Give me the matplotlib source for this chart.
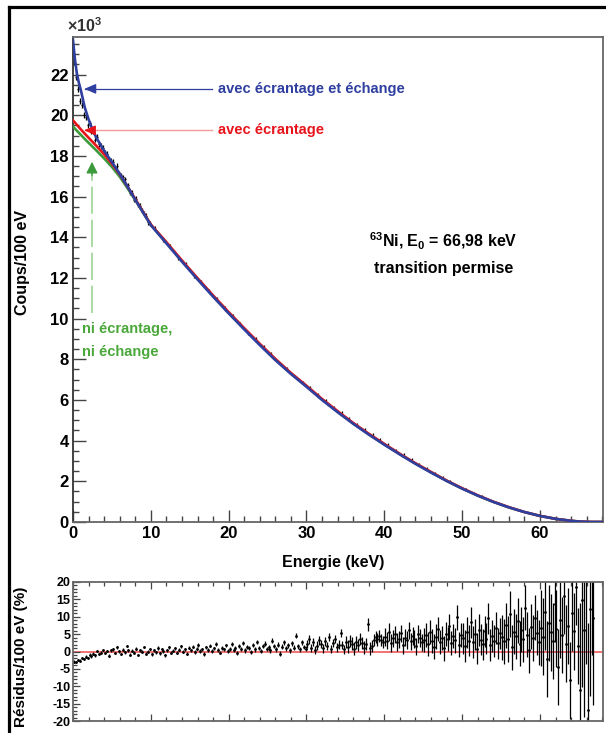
import matplotlib
matplotlib.use("Agg")
import matplotlib.pyplot as plt
from matplotlib.lines import Line2D
from matplotlib.ticker import MultipleLocator
import numpy as np

plt.rcParams["font.family"] = ["Liberation Sans", "DejaVu Sans"]
plt.rcParams["font.weight"] = "bold"
plt.rcParams["axes.unicode_minus"] = False
plt.rcParams["mathtext.fontset"] = "custom"
plt.rcParams["mathtext.bf"] = "Liberation Sans:bold"
plt.rcParams["mathtext.rm"] = "Liberation Sans:bold"
plt.rcParams["mathtext.default"] = "bf"

# ---- fitted spectra (x10^3 counts / 100 eV) ----
E_FIT = [0, 0.25, 0.5, 0.75, 1, 1.5, 2, 2.5, 3, 4, 5, 6, 7, 8, 9, 10, 12, 14, 16, 18,
         20, 22, 24, 26, 28, 30, 32, 34, 36, 38, 40, 42, 44, 46, 48, 50, 52, 54, 56, 58,
         60, 62, 64, 65, 66, 66.5, 66.98, 68]
FIT_FULL = [23.7, 22.75, 22.05, 21.6, 21.25, 20.4, 19.8, 19.3, 18.9, 18.25, 17.7, 17.12,
            16.5, 15.85, 15.22, 14.6, 13.7, 12.8, 11.93, 11.08, 10.26, 9.47, 8.7, 7.96,
            7.28, 6.65, 6.0, 5.4, 4.83, 4.3, 3.8, 3.32, 2.86, 2.43, 2.02, 1.64, 1.3, 0.99,
            0.72, 0.49, 0.3, 0.155, 0.058, 0.025, 0.006, 0.0015, 0, 0]
FIT_SCREEN = [19.75, 19.64, 19.53, 19.42, 19.31, 19.1, 18.9, 18.7, 18.5, 18.08, 17.62,
              17.1, 16.5, 15.88, 15.25, 14.63, 13.76, 12.86, 11.99, 11.14, 10.32, 9.53,
              8.76, 8.02, 7.33, 6.7, 6.05, 5.45, 4.87, 4.34, 3.84, 3.35, 2.89, 2.46, 2.04,
              1.66, 1.31, 1.0, 0.73, 0.49, 0.3, 0.155, 0.058, 0.025, 0.006, 0.0015, 0, 0]
FIT_BARE = [19.45, 19.34, 19.24, 19.14, 19.04, 18.84, 18.65, 18.46, 18.27, 17.88, 17.46,
            16.98, 16.42, 15.83, 15.23, 14.61, 13.74, 12.84, 11.97, 11.12, 10.3, 9.51,
            8.74, 8.0, 7.31, 6.68, 6.03, 5.43, 4.85, 4.32, 3.82, 3.34, 2.88, 2.45, 2.03,
            1.65, 1.3, 0.99, 0.72, 0.49, 0.3, 0.155, 0.058, 0.025, 0.006, 0.0015, 0, 0]

# ---- measured spectrum (x10^3 counts / 100 eV) ----
E_DATA = [0.125, 0.375, 0.625, 0.875, 1.125, 1.375, 1.625, 1.875, 2.125, 2.375,
          2.625, 2.875, 3.125, 3.375, 3.625, 3.875, 4.125, 4.375, 4.625, 4.875,
          5.125, 5.375, 5.625, 5.875, 6.125, 6.375, 6.625, 6.875, 7.125, 7.375,
          7.625, 7.875, 8.125, 8.375, 8.625, 8.875, 9.125, 9.375, 9.625, 9.875,
          10.5, 11.5, 12.5, 13.5, 14.5, 15.5, 16.5, 17.5, 18.5, 19.5, 20.5, 21.5,
          22.5, 23.5, 24.5, 25.5, 26.5, 27.5, 28.5, 29.5, 30.5, 31.5, 32.5, 33.5,
          34.5, 35.5, 36.5, 37.5, 38.5, 39.5, 40.5, 41.5, 42.5, 43.5, 44.5, 45.5,
          46.5, 47.5, 48.5, 49.5, 50.5, 51.5, 52.5, 53.5, 54.5, 55.5, 56.5, 57.5,
          58.5, 59.5, 60.5, 61.5, 62.5, 63.5, 64.5, 65.5, 66.5]
COUNTS = [22.6, 21.9, 21.3, 20.7, 20.5, 20.0, 19.9, 19.5, 19.6, 19.2,
          19.2, 18.8, 18.95, 18.6, 18.5, 18.4, 18.15, 18.1, 17.7, 17.75,
          17.7, 17.35, 17.5, 17.15, 17.05, 16.95, 16.85, 16.5, 16.55, 16.2,
          16.2, 15.85, 15.9, 15.6, 15.55, 15.3, 15.15, 15.05, 14.75, 14.7,
          14.45, 13.9, 13.55, 13.0, 12.65, 12.1, 11.8, 11.35, 10.95, 10.5, 10.15, 9.75,
          9.3, 9.0, 8.6, 8.25, 7.85, 7.55, 7.15, 6.85, 6.6, 6.25, 5.95, 5.65,
          5.4, 5.1, 4.8, 4.55, 4.3, 4.05, 3.8, 3.55, 3.33, 3.08, 2.85, 2.63,
          2.42, 2.2, 2.0, 1.8, 1.61, 1.43, 1.27, 1.11, 0.96, 0.82, 0.69, 0.57,
          0.46, 0.36, 0.27, 0.2, 0.14, 0.085, 0.045, 0.02, 0.004]

# ---- residuals (%), 0.25 keV bins starting at 0.125 keV ----
RESID = [
    -2.9, -3.1, -2.4, -2.6, -1.8, -2.2, -1.5, -1.9, -0.9, -1.4, -0.6, -1.1, 0.2, -0.8, -0.3, 0.4, -0.5, 0.1, -1.2, 0.3,
    0.6, -0.4, 1.2, 0.1, -0.7, 0.5, -0.2, 1.6, 0.3, -0.9, 0.2, -0.3, 0.8, -1.0, 0.4, -0.1, 1.3, -0.6, 0.0, 0.7,
    -0.8, 0.3, -0.2, 1.0, -0.5, 0.6, 0.1, -1.1, 0.4, 1.2, -0.3, 0.2, 0.9, -0.4, 0.5, 1.5, 0.0, 0.7, -0.6, 1.1,
    0.3, 1.4, -0.2, 0.8, 1.9, 0.2, 0.6, -0.7, 1.2, 0.4, 1.7, 0.1, 0.9, 2.1, 0.5, -0.3, 1.0, 0.6, 1.8, 0.2,
    0.8, 2.2, 0.4, 1.1, -0.5, 1.6, 0.7, 2.5, 0.3, 1.3, 0.9, -0.2, 1.9, 0.6, 2.8, 1.0, 0.2, 1.5, 2.3, 0.8,
    1.2, 0.4, 3.1, 1.6, 0.7, 2.0, -0.6, 1.4, 2.6, 0.9, 1.8, 0.3, 2.4, 1.1, 4.6, 1.5, 0.6, 2.7, 1.3, 0.8,
    2.1, 3.5, 1.0, 2.8, 0.4, 1.7, 3.2, 2.2, 0.9, 2.9, 1.5, 4.1, 0.7, 2.5, 3.6, 1.2, 2.0, 5.4, 1.8, 0.6,
    2.7, 1.4, 3.0, 2.3, 0.8, 2.6, 1.9, 3.6, 2.5, 1.1, 2.2, 7.8, 0.9, 1.6, 3.3, 4.2, 3.5, 4.5, 3.3, 2.8,
    4.2, 3.1, 5.6, 2.4, 3.8, 4.9, 2.7, 3.5, 5.2, 1.8, 4.0, 3.3, 6.1, 2.9, 4.5, 3.6, 1.5, 5.0, 3.9, 2.6,
    3.4, 4.8, 2.2, 5.7, 3.0, 1.4, 4.3, 6.5, 2.8, 3.9, 0.9, 5.1, 3.6, 7.2, 2.5, 4.4, 3.2, 9.8, 2.0, 4.7,
    3.8, 1.6, 5.5, 3.1, 8.4, 2.7, 4.9, 0.8, 6.2, 3.4, 2.1, 5.8, 3.7, 9.5, 1.9, 4.5, 3.0, 6.8, 2.4, 5.2,
    4.1, 2.9, 7.5, 3.6, 10.8, 1.2, 5.7, 4.4, 8.9, 2.2, 6.3, 3.5, 12.6, 4.8, 0.4, 7.1, 3.9, 9.7, 5.4, 2.6,
    6.8, 4.3, 11.5, -2.1, 8.2, 5.5, 3.1, 13.8, 6.6, -4.5, 9.1, 4.7, 15.9, 2.3, 7.4, -8.3, 11.2, 5.8, 18.5, 1.6,
    -11.0, 14.7, 6.2, 21.5, -16.8, 12.3, 24.0, 9.5,
]
# error bar half-length (%) for each 5 keV block of residuals
RESID_ERR_BLOCK = [0.35, 0.4, 0.45, 0.5, 0.6, 0.7, 1.2, 1.8, 2.5, 3.5, 4.5, 6.5, 11.0, 25.0]

C_BLUE = "#2f3f9f"
C_RED = "#e8141c"
C_GREEN = "#3c9a3c"
C_SPINE = "#666666"

fig = plt.figure(figsize=(6.06, 7.33), dpi=100)
W, H = 606.0, 733.0
ax = fig.add_axes([73 / W, 1 - 522 / H, 530 / W, 485 / H])
axr = fig.add_axes([73 / W, 1 - 721 / H, 530 / W, 139 / H])

# ---- main panel ----
counts = np.asarray(COUNTS)
e_data = np.asarray(E_DATA)
xerr = np.where(e_data < 10, 0.125, 0.0)
yerr = np.sqrt(counts * 1000.0) / 1000.0
ax.errorbar(e_data, counts, xerr=xerr, yerr=yerr, fmt="none", ecolor="black",
            elinewidth=0.9, zorder=2)
ax.plot(E_FIT, FIT_BARE, color=C_GREEN, lw=1.9, zorder=3)
ax.plot(E_FIT, FIT_SCREEN, color=C_RED, lw=1.9, zorder=4)
ax.plot(E_FIT, FIT_FULL, color=C_BLUE, lw=1.9, zorder=5)

ax.set_xlim(0, 68.1)
ax.set_ylim(0, 23.85)
ax.xaxis.set_major_locator(MultipleLocator(10))
ax.xaxis.set_minor_locator(MultipleLocator(2))
ax.yaxis.set_major_locator(MultipleLocator(2))
ax.yaxis.set_minor_locator(MultipleLocator(0.5))
ax.tick_params(which="both", direction="in", top=False, right=False,
               labelsize=12, color="#444444", pad=3)
ax.tick_params(which="major", length=9, width=1)
ax.tick_params(which="minor", length=4.5, width=1)
ax.yaxis.set_major_formatter(plt.FuncFormatter(lambda v, p: f"{v:.0f}"))
for s in ax.spines.values():
    s.set_color(C_SPINE)
    s.set_linewidth(1.3)
ax.spines["left"].set_color("#333333")

ax.set_xlabel("Energie (keV)", fontsize=11.5, fontweight="bold")
ax.xaxis.set_label_coords(0.49, -0.068)
ax.set_ylabel("Coups/100 eV", fontsize=11.5, fontweight="bold")
ax.yaxis.set_label_coords(-0.081, 0.535)
ax.text(-0.012, 1.004, r"$\times$10$^{3}$", transform=ax.transAxes,
        fontsize=11.5, ha="left", va="bottom", color="#333333")

# arrows + labels
ax.plot([1.6, 17.9], [21.3, 21.3], color=C_BLUE, lw=0.9, zorder=6)
ax.annotate("", xy=(1.1, 21.3), xytext=(2.4, 21.3),
            arrowprops=dict(arrowstyle="-|>,head_length=0.7,head_width=0.3",
                            color=C_BLUE, lw=0.9), zorder=6)
ax.text(18.6, 21.3, "avec écrantage et échange", color=C_BLUE, fontsize=10.5,
        ha="left", va="center")

ax.plot([1.6, 17.9], [19.26, 19.26], color="#f39b9b", lw=1.0, zorder=6)
ax.annotate("", xy=(1.05, 19.26), xytext=(2.3, 19.26),
            arrowprops=dict(arrowstyle="-|>,head_length=0.7,head_width=0.3",
                            color=C_RED, lw=0.9), zorder=6)
ax.text(18.6, 19.26, "avec écrantage", color=C_RED, fontsize=10.5,
        ha="left", va="center")

ax.plot([2.44, 2.44], [10.3, 17.2], color="#a9d9a2", lw=1.4,
        dashes=(14, 3), zorder=6)
ax.annotate("", xy=(2.44, 17.85), xytext=(2.44, 16.9),
            arrowprops=dict(arrowstyle="-|>,head_length=0.7,head_width=0.35",
                            color=C_GREEN, lw=0.9), zorder=6)
ax.text(1.2, 9.5, "ni écrantage,", color="#4aa83a", fontsize=10.5,
        ha="left", va="center")
ax.text(1.2, 8.35, "ni échange", color="#4aa83a", fontsize=10.5,
        ha="left", va="center")

ax.text(47.6, 13.8, r"$^{63}$Ni, E$_{0}$ = 66,98 keV", fontsize=11.5,
        ha="center", va="center")
ax.text(47.6, 12.45, "transition permise", fontsize=11.5, ha="center", va="center")

# ---- residual panel ----
resid = np.asarray(RESID)
e_res = 0.125 + 0.25 * np.arange(len(resid))
res_err = np.repeat(RESID_ERR_BLOCK, 20)[:len(resid)]
axr.axhline(0, color="#ef4b4b", lw=1.1, zorder=1)
axr.errorbar(e_res, resid, yerr=res_err, fmt=".", color="black", ms=2.0,
             elinewidth=0.9, zorder=2)
axr.set_xlim(0, 68.1)
axr.set_ylim(-20, 20)
axr.xaxis.set_major_locator(MultipleLocator(10))
axr.xaxis.set_minor_locator(MultipleLocator(2))
axr.yaxis.set_major_locator(MultipleLocator(5))
axr.yaxis.set_minor_locator(MultipleLocator(1))
axr.tick_params(which="both", direction="in", top=True, right=False,
                labelbottom=False, labelsize=9, color="#444444", pad=2)
axr.tick_params(which="major", length=5, width=0.9)
axr.tick_params(which="minor", length=3, width=0.9)
for s in axr.spines.values():
    s.set_color(C_SPINE)
    s.set_linewidth(1.3)
axr.set_ylabel("Résidus/100 eV (%)", fontsize=11, fontweight="bold")
axr.yaxis.set_label_coords(-0.085, 0.46)

# outer frame
fig.add_artist(Line2D([8.5 / W, 8.5 / W], [0, 1 - 7 / H], color="black",
                      lw=2.3, transform=fig.transFigure))
fig.add_artist(Line2D([8.5 / W, 1.0], [1 - 7 / H, 1 - 7 / H], color="black",
                      lw=2.3, transform=fig.transFigure))

fig.savefig("out.png", dpi=100)
